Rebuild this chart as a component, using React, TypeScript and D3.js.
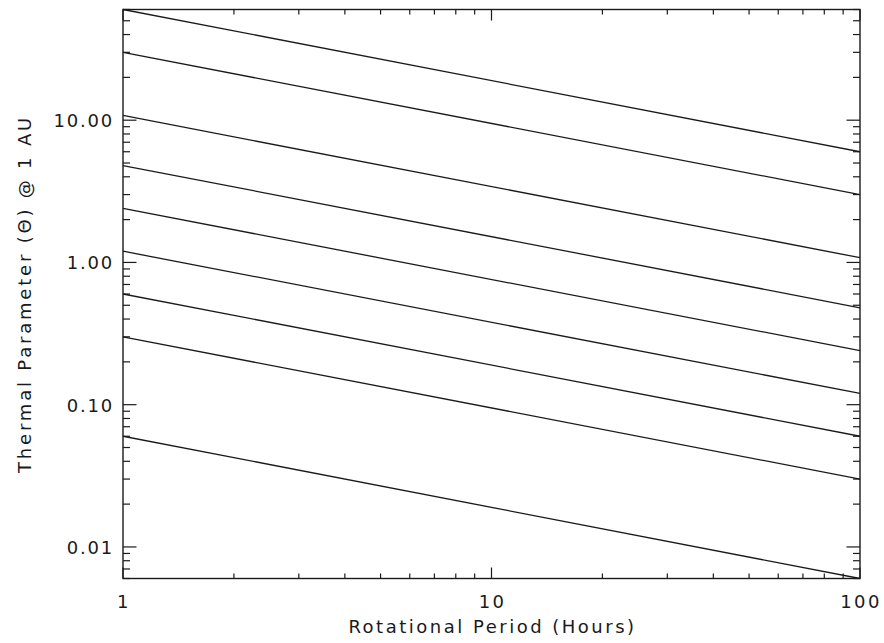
import React, { useRef, useEffect } from "react";
import * as d3 from "d3";

// rotational period (hours) at the two ends of each curve
const periodHours = [1, 100];

// thermal parameter, top to bottom
const theta1 = [60, 6.0];
const theta2 = [30, 3.0];
const theta3 = [10.8, 1.08];
const theta4 = [4.8, 0.48];
const theta5 = [2.4, 0.24];
const theta6 = [1.2, 0.12];
const theta7 = [0.6, 0.06];
const theta8 = [0.3, 0.03];
const theta9 = [0.06, 0.006];

const xMajorTicks = [1, 10, 100];
const xTickLabels = ["1", "10", "100"];
const yMajorTicks = [0.01, 0.1, 1, 10];
const yTickLabels = ["0.01", "0.10", "1.00", "10.00"];

const xTitle = "Rotational Period (Hours)";
const yTitle = "Thermal Parameter (\u0398) @ 1 AU";

const W = 884;
const H = 643;

const App = () => {
  const svgRef = useRef<SVGSVGElement>(null);

  useEffect(() => {
    const svg = d3.select(svgRef.current);
    svg.selectAll("*").remove();

    const margin = { top: 9.5, right: 24, bottom: 64.5, left: 123 };
    const innerW = W - margin.left - margin.right;
    const innerH = H - margin.top - margin.bottom;

    const x = d3.scaleLog().domain([1, 100]).range([0, innerW]);
    const y = d3.scaleLog().domain([0.006, 60]).range([innerH, 0]);

    const ink = "#1a1a1a";
    const font = "'DejaVu Sans', sans-serif";

    const g = svg
      .append("g")
      .attr("transform", `translate(${margin.left},${margin.top})`);

    // curves
    const series = [theta1, theta2, theta3, theta4, theta5, theta6, theta7, theta8, theta9];
    const line = d3
      .line<number>()
      .x((d, i) => x(periodHours[i]))
      .y((d) => y(d));

    g.selectAll(".curve")
      .data(series)
      .enter()
      .append("path")
      .attr("class", "curve")
      .attr("fill", "none")
      .attr("stroke", ink)
      .attr("stroke-width", 1.3)
      .attr("d", (d) => line(d));

    // frame
    g.append("rect")
      .attr("width", innerW)
      .attr("height", innerH)
      .attr("fill", "none")
      .attr("stroke", ink)
      .attr("stroke-width", 1.4);

    // x ticks, bottom and top
    const isMajor = (v: number) => Math.abs(Math.log10(v) - Math.round(Math.log10(v))) < 1e-9;
    const xTicks = x.ticks();
    xTicks.forEach((v) => {
      const len = isMajor(v) ? 11 : 5;
      const px = x(v);
      g.append("line").attr("x1", px).attr("x2", px).attr("y1", innerH).attr("y2", innerH - len)
        .attr("stroke", ink).attr("stroke-width", 1.2);
      g.append("line").attr("x1", px).attr("x2", px).attr("y1", 0).attr("y2", len)
        .attr("stroke", ink).attr("stroke-width", 1.2);
    });

    // y ticks, left and right
    const yTicks = y.ticks();
    yTicks.forEach((v) => {
      const len = isMajor(v) ? 13.5 : 7;
      const py = y(v);
      g.append("line").attr("x1", 0).attr("x2", len).attr("y1", py).attr("y2", py)
        .attr("stroke", ink).attr("stroke-width", 1.2);
      g.append("line").attr("x1", innerW).attr("x2", innerW - len).attr("y1", py).attr("y2", py)
        .attr("stroke", ink).attr("stroke-width", 1.2);
    });

    // tick labels
    g.selectAll(".xlab")
      .data(xMajorTicks)
      .enter()
      .append("text")
      .attr("x", (d) => x(d) + 1)
      .attr("y", innerH + 29)
      .attr("text-anchor", "middle")
      .attr("font-family", font)
      .attr("font-size", 18)
      .attr("letter-spacing", 2.4)
      .attr("fill", ink)
      .text((d, i) => xTickLabels[i]);

    g.selectAll(".ylab")
      .data(yMajorTicks)
      .enter()
      .append("text")
      .attr("x", -9)
      .attr("y", (d) => y(d) + 7)
      .attr("text-anchor", "end")
      .attr("font-family", font)
      .attr("font-size", 18)
      .attr("letter-spacing", 1.8)
      .attr("fill", ink)
      .text((d, i) => yTickLabels[i]);

    // axis titles
    svg.append("text")
      .attr("x", margin.left + innerW / 2 + 1)
      .attr("y", 633)
      .attr("text-anchor", "middle")
      .attr("font-family", font)
      .attr("font-size", 18)
      .attr("letter-spacing", 2.5)
      .attr("fill", ink)
      .text(xTitle);

    svg.append("text")
      .attr("transform", `translate(31,${margin.top + innerH / 2}) rotate(-90)`)
      .attr("text-anchor", "middle")
      .attr("font-family", font)
      .attr("font-size", 18)
      .attr("letter-spacing", 2.8)
      .attr("fill", ink)
      .text(yTitle);
  }, []);

  return (
    <svg
      ref={svgRef}
      width={W}
      height={H}
      style={{ position: "absolute", left: 0, top: 0, background: "#fff" }}
    ></svg>
  );
};

export default App;
